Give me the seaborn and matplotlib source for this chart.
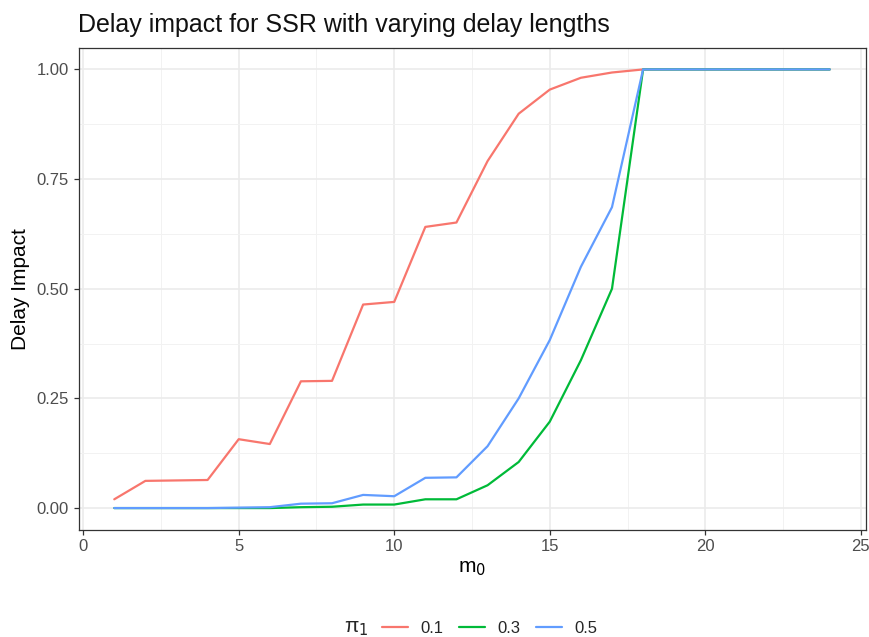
import numpy as np
import pandas as pd
import seaborn as sns
import matplotlib.pyplot as plt
from matplotlib.ticker import MultipleLocator

# Delay lengths m0 and the delay impact for each pi_1 setting
m0 = list(range(1, 25))
impact_01 = [0.020, 0.062, 0.063, 0.064, 0.157, 0.146, 0.289, 0.290, 0.464, 0.470,
             0.641, 0.651, 0.791, 0.899, 0.954, 0.981, 0.993, 1.0, 1.0, 1.0,
             1.0, 1.0, 1.0, 1.0]
impact_03 = [0.0, 0.0, 0.0, 0.0, 0.0, 0.0, 0.002, 0.003, 0.008, 0.008,
             0.020, 0.020, 0.052, 0.105, 0.197, 0.337, 0.500, 1.0, 1.0, 1.0,
             1.0, 1.0, 1.0, 1.0]
impact_05 = [0.0, 0.0, 0.0, 0.0, 0.001, 0.002, 0.010, 0.011, 0.030, 0.027,
             0.069, 0.070, 0.141, 0.250, 0.383, 0.550, 0.686, 1.0, 1.0, 1.0,
             1.0, 1.0, 1.0, 1.0]
pi_levels = ["0.1", "0.3", "0.5"]
colors = ["#F8766D", "#00BA38", "#619CFF"]

df = pd.concat([
    pd.DataFrame({"m0": m0, "impact": vals, "pi1": lvl})
    for lvl, vals in zip(pi_levels, [impact_01, impact_03, impact_05])
])

sns.set_theme(style="white")
plt.rcParams["font.family"] = ["Liberation Sans", "DejaVu Sans"]

fig = plt.figure(figsize=(8.69, 6.37), dpi=100)
ax = fig.add_axes([78.5 / 869, 1 - 530 / 637, (865.5 - 78.5) / 869, (530 - 47.5) / 637])

sns.lineplot(data=df, x="m0", y="impact", hue="pi1", hue_order=pi_levels,
             palette=colors, linewidth=1.6, ax=ax, legend=False)

ax.set_xlim(-0.15, 25.15)
ax.set_ylim(-0.05, 1.05)
ax.xaxis.set_major_locator(MultipleLocator(5))
ax.xaxis.set_minor_locator(MultipleLocator(2.5))
ax.yaxis.set_major_locator(MultipleLocator(0.25))
ax.yaxis.set_minor_locator(MultipleLocator(0.125))
ax.yaxis.set_major_formatter(plt.FuncFormatter(lambda v, p: f"{v:.2f}"))

ax.grid(which="major", color="#EBEBEB", linewidth=1.2)
ax.grid(which="minor", color="#F2F2F2", linewidth=0.7)
ax.set_axisbelow(True)
for sp in ax.spines.values():
    sp.set_visible(True)
    sp.set_color("#333333")
    sp.set_linewidth(0.9)

ax.tick_params(which="major", axis="both", length=3.8, width=0.9, color="#333333",
               labelsize=12, labelcolor="#4D4D4D", pad=3, bottom=True, left=True)
ax.tick_params(which="minor", length=0)

ax.set_xlabel("m$_0$", fontsize=15, color="black", labelpad=3)
ax.set_ylabel("Delay Impact", fontsize=15, color="black", labelpad=5)
ax.set_title("Delay impact for SSR with varying delay lengths", fontsize=18,
             loc="left", pad=11, color="#111111", x=-0.001)

handles = [plt.Line2D([], [], color=c, linewidth=1.6) for c in colors]
fig.legend(handles, pi_levels, loc="center", bbox_to_anchor=(489.5 / 869, 1 - 628.5 / 637),
           ncol=3, frameon=False, fontsize=12, handlelength=1.56, columnspacing=0.9,
           handletextpad=0.78)
fig.text(356 / 869, 1 - 628 / 637, "π$_1$", fontsize=15, ha="center", va="center")

fig.savefig("out.png", dpi=100)
